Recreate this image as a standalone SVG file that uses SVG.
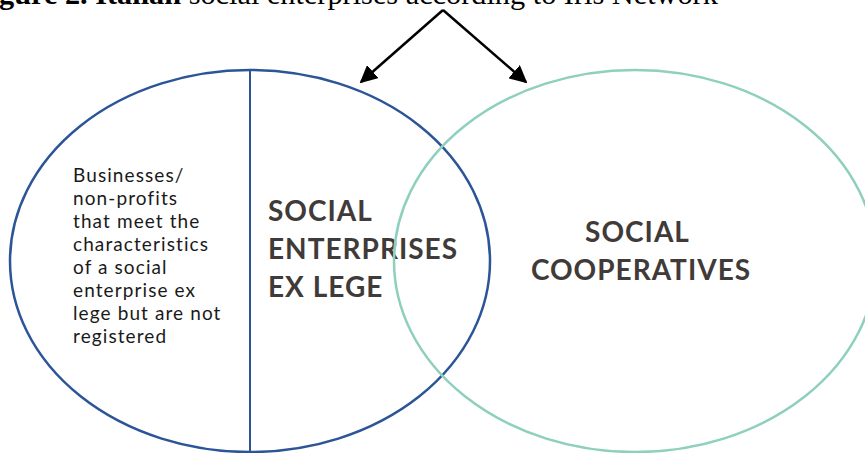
<svg xmlns="http://www.w3.org/2000/svg" width="865" height="453" viewBox="0 0 865 453">
<style>
.title{font-family:"Liberation Serif",serif;font-size:30.3px;fill:#000}
.small{font-family:Lato,"Noto Sans",sans-serif;font-size:19px;fill:#1a1a1a;letter-spacing:1.1px}
.big{font-family:Lato,"Noto Sans",sans-serif;font-size:28px;font-weight:bold;fill:#403a38;letter-spacing:1px}
.conn{stroke:#000;stroke-width:2.5;fill:none}
</style>
<defs>
<marker id="ah" viewBox="0 0 10 10" refX="9" refY="5" markerWidth="7" markerHeight="7" markerUnits="strokeWidth" orient="auto">
<path d="M0,0 L10,5 L0,10 z" fill="#000"/>
</marker>
</defs>
<rect width="865" height="453" fill="#fff"/>
<text class="title" x="-1" y="4"><tspan font-weight="bold">gure 2. Italian</tspan> social enterprises according to Iris Network</text>
<g id="connectors">
<line class="conn" x1="443" y1="10" x2="361" y2="82" marker-end="url(#ah)"/>
<line class="conn" x1="443" y1="10" x2="526" y2="82" marker-end="url(#ah)"/>
</g>
<g id="social-enterprises">
<ellipse cx="250" cy="261" rx="240" ry="191" fill="none" stroke="#2b5597" stroke-width="2.5"/>
<line x1="250" y1="70" x2="250" y2="453" stroke="#2b5597" stroke-width="2"/>
<text class="small" x="73">
<tspan x="73" y="182">Businesses/</tspan>
<tspan x="73" y="205">non-profits</tspan>
<tspan x="73" y="228">that meet the</tspan>
<tspan x="73" y="251">characteristics</tspan>
<tspan x="73" y="274">of a social</tspan>
<tspan x="73" y="297">enterprise ex</tspan>
<tspan x="73" y="320">lege but are not</tspan>
<tspan x="73" y="343">registered</tspan>
</text>
<text class="big">
<tspan x="268" y="221">SOCIAL</tspan>
<tspan x="268" y="259">ENTERPRISES</tspan>
<tspan x="268" y="297">EX LEGE</tspan>
</text>
</g>
<g id="social-cooperatives">
<ellipse cx="635" cy="261" rx="241" ry="191" fill="none" stroke="#8ecfbe" stroke-width="2.5"/>
<text class="big" text-anchor="middle">
<tspan x="641" y="242">SOCIAL</tspan>
<tspan x="641" y="280">COOPERATIVES</tspan>
</text>
</g>
</svg>
